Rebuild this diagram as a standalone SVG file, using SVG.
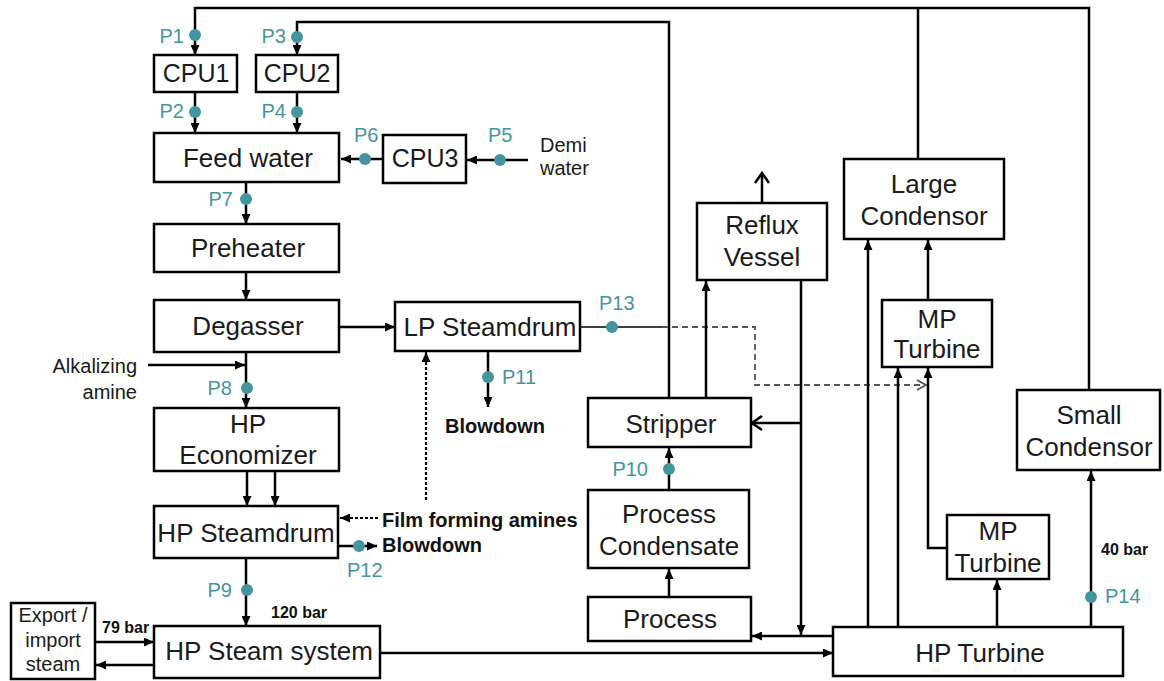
<svg xmlns="http://www.w3.org/2000/svg" width="1164" height="681" viewBox="0 0 1164 681">
<style>
.box{fill:#fff;stroke:#000;stroke-width:2.5}
.t{font-family:"Liberation Sans",Arial,sans-serif;font-size:26px;fill:#1a1a1a;text-anchor:middle}
.cpu{font-size:25px}
.s{font-family:"Liberation Sans",Arial,sans-serif;font-size:20px;fill:#1a1a1a}
.e{font-family:"Liberation Sans",Arial,sans-serif;font-size:20px;fill:#1a1a1a;text-anchor:middle}
.b{font-family:"Liberation Sans",Arial,sans-serif;font-size:20px;font-weight:bold;fill:#111}
.bar{font-family:"Liberation Sans",Arial,sans-serif;font-size:16px;font-weight:bold;fill:#111}
.p{font-family:"Liberation Sans",Arial,sans-serif;font-size:20px;fill:#45959e}
.c{fill:none;stroke:#000;stroke-width:2.5}
.thin{fill:none;stroke:#000;stroke-width:1.5}
.dash{fill:none;stroke:#555;stroke-width:1.8;stroke-dasharray:6,4}
.dot{fill:none;stroke:#000;stroke-width:2.2;stroke-dasharray:3,2}
.pt{fill:#45959e}
</style>
<defs>
<marker id="a" markerUnits="userSpaceOnUse" markerWidth="10" markerHeight="9" refX="10" refY="4.5" orient="auto">
<path d="M0,0 L10,4.5 L0,9 z" fill="#000"/>
</marker>
<marker id="o" markerUnits="userSpaceOnUse" markerWidth="14" markerHeight="16" refX="12" refY="8" orient="auto">
<path d="M2,1 L12,8 L2,15" fill="none" stroke="#000" stroke-width="2.5"/>
</marker>
<marker id="g" markerUnits="userSpaceOnUse" markerWidth="12" markerHeight="12" refX="11" refY="6" orient="auto">
<path d="M2,1 L11,6 L2,11" fill="none" stroke="#555" stroke-width="1.8"/>
</marker>
</defs>

<g id="connectors">
<path class="c" d="M1089,390 V8 H195 V55" marker-end="url(#a)"/>
<path class="c" d="M918,159 V8"/>
<path class="c" d="M669,398 V22 H297 V55" marker-end="url(#a)"/>
<path class="c" d="M195,92 V133" marker-end="url(#a)"/>
<path class="c" d="M297,92 V133" marker-end="url(#a)"/>
<path class="c" d="M528,160 H467" marker-end="url(#a)"/>
<path class="c" d="M383,159 H341" marker-end="url(#a)"/>
<path class="c" d="M246,182 V224" marker-end="url(#a)"/>
<path class="c" d="M246,272 V300" marker-end="url(#a)"/>
<path class="c" d="M339,327 H395" marker-end="url(#a)"/>
<path class="c" d="M246,352 V408" marker-end="url(#a)"/>
<path class="c" d="M148,365 H245" marker-end="url(#a)"/>
<path class="c" d="M247,471 V506" marker-end="url(#a)"/>
<path class="c" d="M275,471 V506" marker-end="url(#a)"/>
<path class="c" d="M246,558 V626" marker-end="url(#a)"/>
<path class="c" d="M338,546 H377" marker-end="url(#a)"/>
<path class="dot" d="M378,518 H340" marker-end="url(#a)"/>
<path class="dot" d="M426,500 V352" marker-end="url(#a)"/>
<path class="c" d="M488,351 V407" marker-end="url(#a)"/>
<path class="thin" d="M580,327 H662"/>
<path class="dash" d="M662,327 H755 V385 H926" marker-end="url(#g)"/>
<path class="c" d="M95,642 H154" marker-end="url(#a)"/>
<path class="c" d="M154,665 H96" marker-end="url(#a)"/>
<path class="c" d="M380,653 H833" marker-end="url(#a)"/>
<path class="c" d="M833,636 H752" marker-end="url(#a)"/>
<path class="c" d="M801,280 V635" marker-end="url(#a)"/>
<path class="c" d="M801,423 H752" marker-end="url(#o)"/>
<path class="c" d="M706,398 V281" marker-end="url(#a)"/>
<path class="c" d="M762,203 V173" marker-end="url(#o)"/>
<path class="c" d="M669,597 V569" marker-end="url(#a)"/>
<path class="c" d="M669,490 V448" marker-end="url(#a)"/>
<path class="c" d="M868,627 V240" marker-end="url(#a)"/>
<path class="c" d="M898,627 V368" marker-end="url(#a)"/>
<path class="c" d="M947,548 H928 V368" marker-end="url(#a)"/>
<path class="c" d="M928,300 V240" marker-end="url(#a)"/>
<path class="c" d="M997,627 V580" marker-end="url(#a)"/>
<path class="c" d="M1091,627 V471" marker-end="url(#a)"/>
</g>

<g id="points">
<circle class="pt" cx="195" cy="35" r="6"/><text class="p" x="184" y="43" text-anchor="end">P1</text>
<circle class="pt" cx="195" cy="112" r="6"/><text class="p" x="184" y="118" text-anchor="end">P2</text>
<circle class="pt" cx="297" cy="37" r="6"/><text class="p" x="286" y="43" text-anchor="end">P3</text>
<circle class="pt" cx="297" cy="112" r="6"/><text class="p" x="286" y="118" text-anchor="end">P4</text>
<circle class="pt" cx="500" cy="160" r="6"/><text class="p" x="488" y="142">P5</text>
<circle class="pt" cx="365" cy="159" r="6"/><text class="p" x="354" y="142">P6</text>
<circle class="pt" cx="246" cy="199" r="6"/><text class="p" x="233" y="206" text-anchor="end">P7</text>
<circle class="pt" cx="247" cy="388" r="6"/><text class="p" x="232" y="395" text-anchor="end">P8</text>
<circle class="pt" cx="247" cy="590" r="6"/><text class="p" x="232" y="597" text-anchor="end">P9</text>
<circle class="pt" cx="669" cy="469" r="6"/><text class="p" x="648" y="476" text-anchor="end">P10</text>
<circle class="pt" cx="488" cy="377" r="6"/><text class="p" x="502" y="384">P11</text>
<circle class="pt" cx="359" cy="546" r="6"/><text class="p" x="347" y="577">P12</text>
<circle class="pt" cx="612" cy="327" r="6"/><text class="p" x="599" y="310">P13</text>
<circle class="pt" cx="1091" cy="597" r="6"/><text class="p" x="1105" y="603">P14</text>
</g>

<g id="labels">
<text class="s" x="540" y="152">Demi</text>
<text class="s" x="540" y="175">water</text>
<text class="s" x="137" y="373" text-anchor="end">Alkalizing</text>
<text class="s" x="137" y="399" text-anchor="end">amine</text>
<text class="b" x="445" y="433">Blowdown</text>
<text class="b" x="382" y="527">Film forming amines</text>
<text class="b" x="382" y="552">Blowdown</text>
<text class="bar" x="271" y="618">120 bar</text>
<text class="bar" x="102" y="633">79 bar</text>
<text class="bar" x="1101" y="555">40 bar</text>
</g>

<g id="cpu1"><rect class="box" x="154" y="55" width="83" height="37"/><text class="t cpu" x="196" y="82">CPU1</text></g>
<g id="cpu2"><rect class="box" x="256" y="55" width="82" height="37"/><text class="t cpu" x="297" y="82">CPU2</text></g>
<g id="feedwater"><rect class="box" x="154" y="133" width="185" height="49"/><text class="t" x="248" y="167">Feed water</text></g>
<g id="cpu3"><rect class="box" x="383" y="135" width="83" height="48"/><text class="t cpu" x="425" y="167">CPU3</text></g>
<g id="preheater"><rect class="box" x="154" y="224" width="185" height="48"/><text class="t" x="248" y="257">Preheater</text></g>
<g id="degasser"><rect class="box" x="154" y="300" width="185" height="52"/><text class="t" x="248" y="335">Degasser</text></g>
<g id="lpsteamdrum"><rect class="box" x="395" y="302" width="185" height="49"/><text class="t" x="490" y="336">LP Steamdrum</text></g>
<g id="hpeconomizer"><rect class="box" x="154" y="408" width="185" height="63"/><text class="t" x="248" y="433">HP</text><text class="t" x="248" y="464">Economizer</text></g>
<g id="hpsteamdrum"><rect class="box" x="154" y="506" width="184" height="52"/><text class="t" x="246" y="542">HP Steamdrum</text></g>
<g id="hpsteamsystem"><rect class="box" x="154" y="626" width="226" height="52"/><text class="t" x="269" y="660">HP Steam system</text></g>
<g id="export"><rect class="box" x="11" y="603" width="84" height="76"/>
<text class="e" x="53" y="622">Export /</text>
<text class="e" x="53" y="647">import</text>
<text class="e" x="53" y="671">steam</text></g>
<g id="reflux"><rect class="box" x="697" y="203" width="130" height="77"/><text class="t" x="762" y="234">Reflux</text><text class="t" x="762" y="266">Vessel</text></g>
<g id="stripper"><rect class="box" x="588" y="398" width="163" height="49"/><text class="t" x="671" y="433">Stripper</text></g>
<g id="processcondensate"><rect class="box" x="588" y="490" width="161" height="78"/><text class="t" x="669" y="523">Process</text><text class="t" x="669" y="555">Condensate</text></g>
<g id="process"><rect class="box" x="588" y="597" width="163" height="44"/><text class="t" x="670" y="628">Process</text></g>
<g id="largecondensor"><rect class="box" x="844" y="159" width="160" height="80"/><text class="t" x="924" y="193">Large</text><text class="t" x="924" y="225">Condensor</text></g>
<g id="mpturbine1"><rect class="box" x="882" y="300" width="110" height="67"/><text class="t" x="937" y="328">MP</text><text class="t" x="937" y="358">Turbine</text></g>
<g id="smallcondensor"><rect class="box" x="1017" y="390" width="143" height="80"/><text class="t" x="1089" y="424">Small</text><text class="t" x="1089" y="456">Condensor</text></g>
<g id="mpturbine2"><rect class="box" x="947" y="515" width="102" height="64"/><text class="t" x="998" y="540">MP</text><text class="t" x="998" y="572">Turbine</text></g>
<g id="hpturbine"><rect class="box" x="833" y="627" width="290" height="49"/><text class="t" x="980" y="662">HP Turbine</text></g>
</svg>
